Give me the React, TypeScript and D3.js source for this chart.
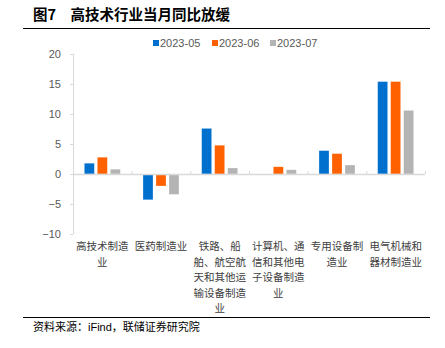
import React from "react";
import * as d3 from "d3";

const categories = ["高技术制造业", "医药制造业", "铁路船舶航空航天", "计算机通信电子", "专用设备制造业", "电气机械器材"];
const categoryLabelLines = [
  ["高技术制造", "业"],
  ["医药制造业"],
  ["铁路、船", "舶、航空航", "天和其他运", "输设备制造", "业"],
  ["计算机、通", "信和其他电", "子设备制造", "业"],
  ["专用设备制", "造业"],
  ["电气机械和", "器材制造业"],
];
const seriesNames = ["2023-05", "2023-06", "2023-07"];
const seriesColors = ["#0070CF", "#FF6000", "#B4B4B4"];
const may = [1.8, -4.3, 7.6, 0, 3.9, 15.4];
const jun = [2.8, -2.0, 4.8, 1.2, 3.4, 15.4];
const jul = [0.8, -3.4, 1.0, 0.7, 1.5, 10.6];
const seriesValues = [may, jun, jul];
const yTicks = [-10, -5, 0, 5, 10, 15, 20];

export default function App() {
  const W = 445, H = 348;
  const left = 73, right = 425, top = 54, bottom = 234;
  const y = d3.scaleLinear().domain([-10, 20]).range([bottom, top]);
  const x = d3.scaleBand<string>().domain(categories).range([left, right]).padding(0);
  const inner = d3.scaleBand<string>().domain(seriesNames).range([0, 36]).paddingInner(3 / 13).paddingOuter(0);
  const bw = inner.bandwidth();
  const numFont = "'Liberation Sans', Arial, sans-serif";
  const cjk = "'Noto Sans CJK SC', sans-serif";
  const legendX = [153, 212, 270];

  return (
    <svg width={W} height={H} style={{ position: "absolute", left: 0, top: 0, background: "#fff" }}>
      <text x={33} y={20} fontFamily={cjk} fontSize={14.5} fontWeight="bold" fill="#000">
        图7　高技术行业当月同比放缓
      </text>
      <line x1={23} x2={430} y1={28.5} y2={28.5} stroke="#000" strokeWidth={1} />

      {seriesNames.map((s, i) => (
        <g key={s}>
          <rect x={legendX[i]} y={40} width={6} height={6} fill={seriesColors[i]} />
          <text x={legendX[i] + 7} y={47} fontFamily={numFont} fontSize={11} fill="#595959">{s}</text>
        </g>
      ))}

      {/* y axis */}
      <line x1={left + 0.5} x2={left + 0.5} y1={top} y2={bottom} stroke="#d9d9d9" strokeWidth={1} />
      {yTicks.map((t) => (
        <g key={t}>
          <line x1={left - 3} x2={left} y1={y(t) + 0.5} y2={y(t) + 0.5} stroke="#d9d9d9" />
          <text x={61} y={y(t) + 4} textAnchor="end" fontFamily={numFont} fontSize={11} fill="#595959">
            {t < 0 ? "\u2212" + Math.abs(t) : t}
          </text>
        </g>
      ))}

      {/* bars */}
      {seriesValues.map((vals, si) =>
        vals.map((v, ci) => {
          if (v === 0) return null;
          const cx = (x(categories[ci]) as number) + x.bandwidth() / 2 - 18;
          const bx = cx + (inner(seriesNames[si]) as number);
          const y0 = y(0), y1 = y(v);
          return (
            <rect key={si + "-" + ci} x={bx} y={Math.min(y0, y1)} width={bw} height={Math.abs(y1 - y0)}
              fill={seriesColors[si]} stroke="#ffffff" strokeOpacity={0.5} strokeWidth={0.5} />
          );
        })
      )}

      {/* zero line */}
      <line x1={left} x2={right} y1={y(0) + 0.5} y2={y(0) + 0.5} stroke="#d9d9d9" strokeWidth={1.5} />
      {categories.map((c, i) => (
        <line key={c} x1={(x(c) as number) + x.bandwidth() + 0.5} x2={(x(c) as number) + x.bandwidth() + 0.5}
          y1={y(0) - 3} y2={y(0)} stroke="#d9d9d9" />
      ))}

      {/* category labels */}
      {categoryLabelLines.map((lines, ci) => (
        <text key={ci} textAnchor="middle" fontFamily={cjk} fontSize={10.5} fill="#404040">
          {lines.map((ln, li) => (
            <tspan key={li} x={(x(categories[ci]) as number) + x.bandwidth() / 2} y={250 + li * 15.5}>{ln}</tspan>
          ))}
        </text>
      ))}

      <line x1={23} x2={430} y1={317.5} y2={317.5} stroke="#000" strokeWidth={1} />
      <text x={33} y={331} fontFamily={cjk} fontSize={11} fill="#000">
        资料来源：<tspan fontFamily={numFont}>iFind</tspan>，联储证券研究院
      </text>
    </svg>
  );
}
